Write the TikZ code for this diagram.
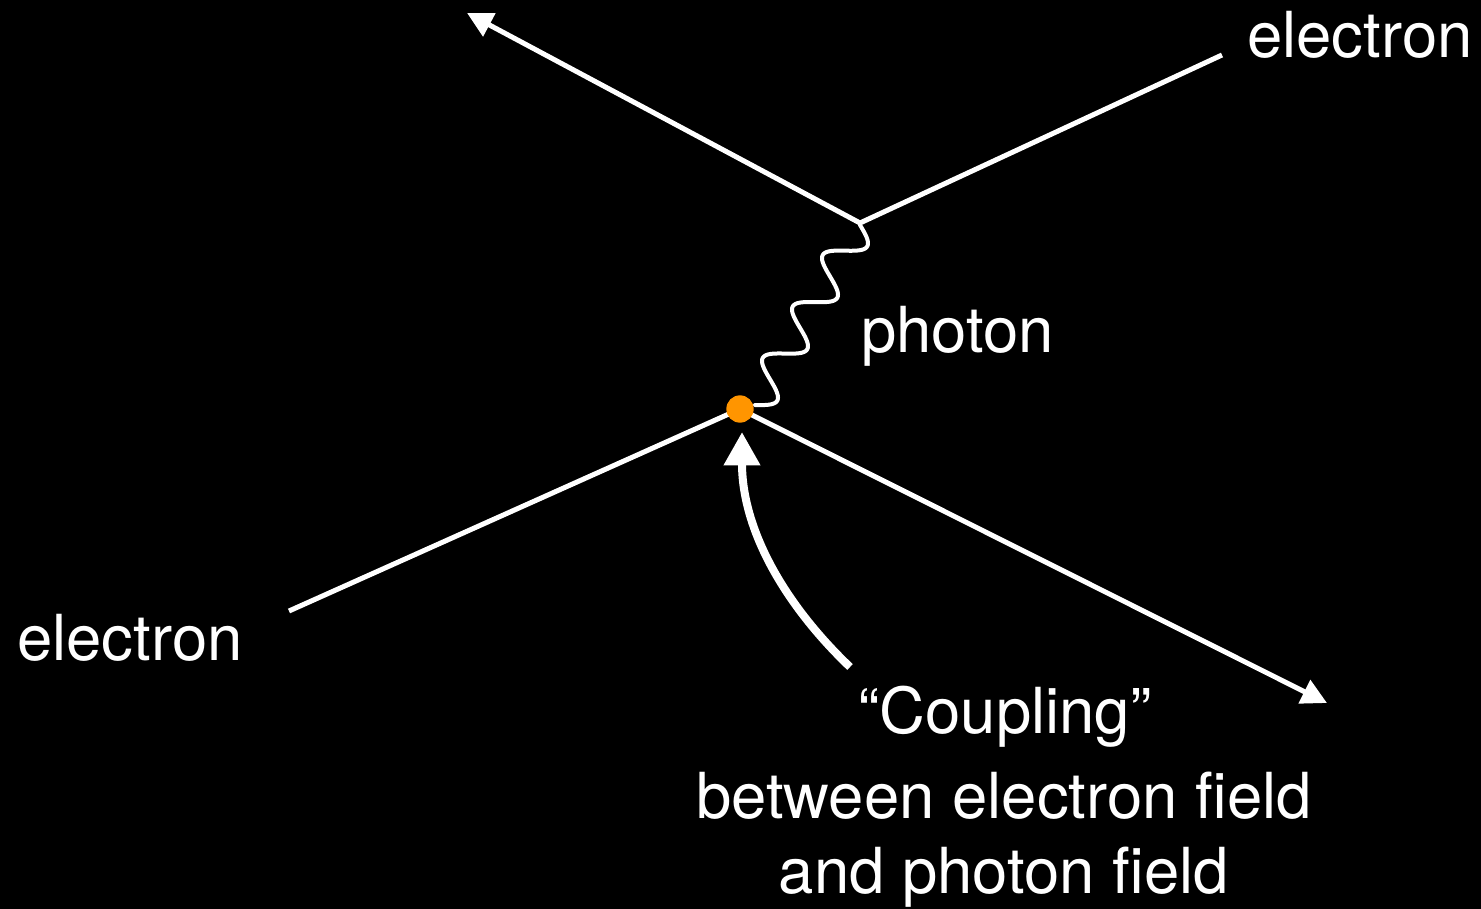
\documentclass[tikz,border=0pt]{standalone}
\usepackage{fontspec}
\setmainfont{TeX Gyre Heros}
\usetikzlibrary{arrows.meta}
\definecolor{dotorange}{RGB}{255,149,0}
\begin{document}
\begin{tikzpicture}[x=0.75pt,y=-0.75pt,
  fermion/.style={draw=white,line width=3.75pt},
  fermarrow/.style={fermion,-{Triangle[length=19pt,width=19pt]}},
  photonline/.style={draw=white,line width=3pt,line cap=round},
  label/.style={text=white,inner sep=0pt,font=\fontsize{47.6}{56}\selectfont},
  coupling/.style={draw=white,line width=6pt,-{Triangle[length=25pt,width=26pt]}}]
\fill[black] (0,0) rectangle (1481,909);
\useasboundingbox (0,0) rectangle (1481,909);
% coordinates
\coordinate (vlow) at (740,409);
\coordinate (vup) at (860,223);
\coordinate (inL) at (289,611);
\coordinate (outR) at (1327,703);
\coordinate (outTL) at (467,13);
\coordinate (inTR) at (1222,55);
\coordinate (cstart) at (850,667);
\coordinate (ctip) at (742,432);
% electron lines
\draw[fermion] (inL) -- (vlow);
\draw[fermarrow] (vlow) -- (outR);
\draw[fermion] (inTR) -- (vup);
\draw[fermarrow] (vup) -- (outTL);
% photon
\draw[photonline] plot[domain=0:208,samples=220,smooth]
  ({755 + 0.505*\x + 14.72*sin(6.0606*\x)}, {405 - 0.866*\x + 8.59*sin(6.0606*\x)});
% vertex dot
\node[circle,fill=dotorange,minimum size=20.5pt,inner sep=0pt] (dot) at (vlow) {};
% coupling arrow
\draw[coupling] (cstart) .. controls (785,605) and (742,530) .. (ctip);
% labels
\node[label,anchor=base west] (eTR) at (1247,58) {electron};
\node[label,anchor=base west] (eBL) at (17,660) {electron};
\node[label,anchor=base west] (ph) at (861,352) {photon};
\node[label,anchor=base] (c1) at (1005,733) {“Coupling”};
\node[label,anchor=base] (c2) at (1004,818) {between electron field};
\node[label,anchor=base] (c3) at (1004,893) {and photon field};
\end{tikzpicture}
\end{document}
